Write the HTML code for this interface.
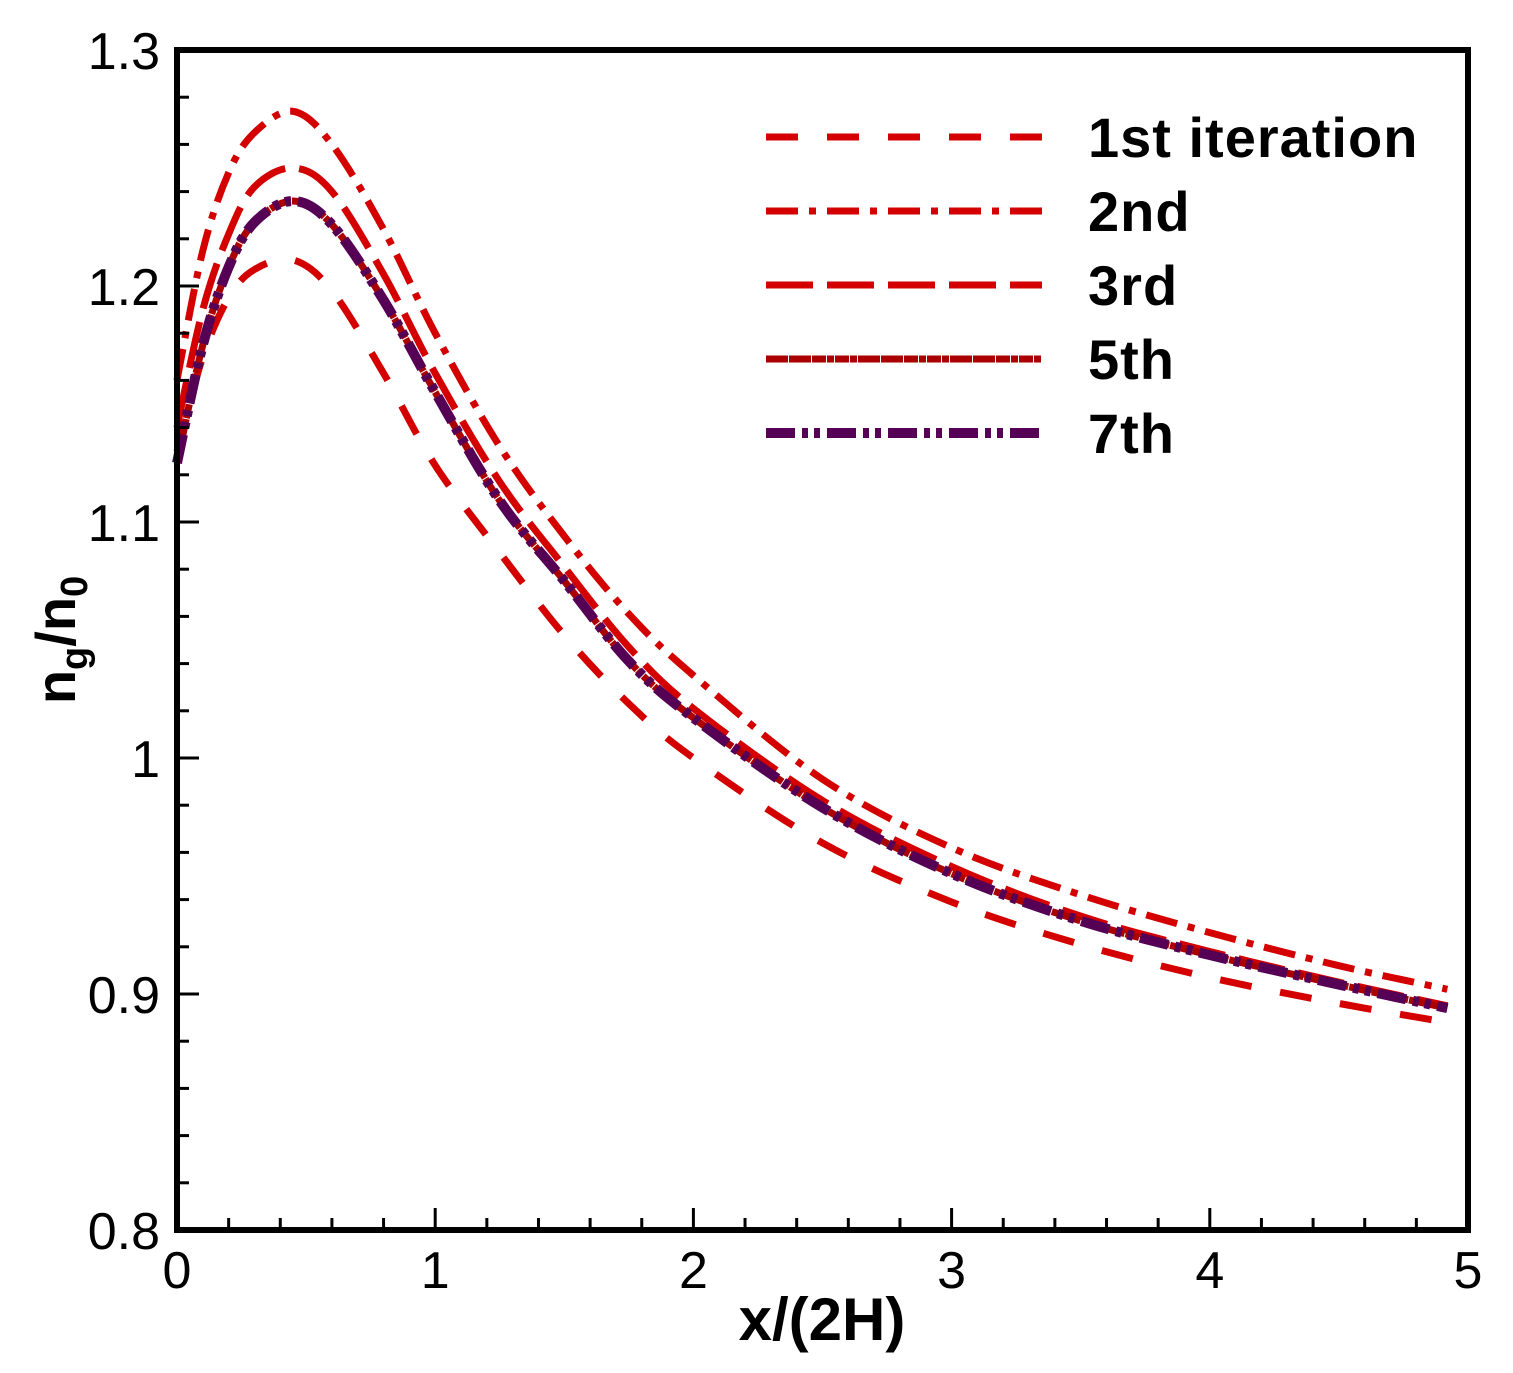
<!DOCTYPE html>
<html><head><meta charset="utf-8"><style>
html,body{margin:0;padding:0;background:#fff;}
svg{display:block;font-family:"Liberation Sans",Arial,sans-serif;}
</style></head><body>
<svg id="chart" width="1513" height="1373" viewBox="0 0 1513 1373">
<g id="marks"></g>
<g id="axes"></g>
<g id="legend"></g>
<text x="822" y="1340" font-size="60" font-weight="bold" text-anchor="middle">x/(2H)</text>
<text transform="translate(75,640) rotate(-90)" font-size="56" font-weight="bold" text-anchor="middle">n<tspan font-size="38" dy="12">g</tspan><tspan dy="-12">/n</tspan><tspan font-size="38" dy="12">0</tspan></text>
</svg>
<script>
const xs = [0,0.1,0.2,0.3,0.45,0.6,0.8,1.0,1.25,1.5,1.75,2,2.5,3,3.5,4,4.5,4.92];
const s1 = [1.13,1.17,1.195,1.207,1.211,1.198,1.163,1.124,1.087,1.052,1.023,1.0,0.964,0.939,0.921,0.907,0.896,0.888];
const s2 = [1.16,1.215,1.248,1.265,1.274,1.26,1.224,1.18,1.132,1.094,1.061,1.035,0.991,0.962,0.942,0.926,0.912,0.902];
const s3 = [1.14,1.19,1.222,1.242,1.25,1.24,1.205,1.163,1.117,1.081,1.047,1.021,0.982,0.954,0.933,0.918,0.905,0.895];
const s5 = [1.125,1.175,1.208,1.227,1.236,1.226,1.194,1.155,1.109,1.075,1.041,1.017,0.979,0.951,0.931,0.9165,0.904,0.894];
const s7 = [1.125,1.175,1.208,1.227,1.236,1.226,1.194,1.155,1.109,1.075,1.041,1.017,0.979,0.951,0.931,0.9165,0.904,0.894];
const seriesNames = ["1st iteration","2nd","3rd","5th","7th"];
const xTicks = ["0","1","2","3","4","5"];
const yTicks = ["0.8","0.9","1","1.1","1.2","1.3"];

const X0=177,X1=1468,Y0=1230,Y1=50;
const sx=v=>X0+(v-0)/(5-0)*(X1-X0);
const sy=v=>Y0-(v-0.8)/(1.3-0.8)*(Y0-Y1);
const NS="http://www.w3.org/2000/svg";
function mk(tag,parent){const e=document.createElementNS(NS,tag);parent.appendChild(e);return e;}
function pathD(xv,yv){
  const p=xv.map((x,i)=>[sx(x),sy(yv[i])]);
  let d="M"+p[0][0]+","+p[0][1];
  for(let i=0;i<p.length-1;i++){
    const a=p[Math.max(i-1,0)],b=p[i],c=p[i+1],e=p[Math.min(i+2,p.length-1)];
    const c1=[b[0]+(c[0]-a[0])/6,b[1]+(c[1]-a[1])/6];
    const c2=[c[0]-(e[0]-b[0])/6,c[1]-(e[1]-b[1])/6];
    d+=` C${c1[0]},${c1[1]} ${c2[0]},${c2[1]} ${c[0]},${c[1]}`;
  }
  return d;
}
const styles=[
 {c:"#d40000",w:7,da:"32 29"},
 {c:"#d40000",w:7,da:"32 11 7 11"},
 {c:"#d40000",w:7,da:"47 14"},
 {c:"#aa0000",w:7,da:"22 1 22 1 14 1 7 1 14 1 7 1"},
 {c:"#550055",w:10,da:"29 7 6 6 6 7"}
];
const data=[s1,s2,s3,s5,s7];
const marks=document.getElementById("marks");
data.forEach((s,i)=>{
  const p=mk("path",marks);
  
  
  p.setAttribute("d",pathD(xs,s));
  p.setAttribute("fill","none");p.setAttribute("stroke",styles[i].c);
  p.setAttribute("stroke-width",styles[i].w);p.setAttribute("stroke-dasharray",styles[i].da);
});
const axes=document.getElementById("axes");
function line(x1,y1,x2,y2,w){const l=mk("line",axes);l.setAttribute("x1",x1);l.setAttribute("y1",y1);l.setAttribute("x2",x2);l.setAttribute("y2",y2);l.setAttribute("stroke","#000");l.setAttribute("stroke-width",w);return l;}
for(let k=0;k<=25;k++){const v=k*0.2;const x=sx(v);const major=k%5===0;
  const t=line(x,Y0,x,Y0-(major?22:12),3);
  
  }
xTicks.forEach((lab,i)=>{const t=mk("text",axes);
  
  
  t.setAttribute("x",sx(+lab));t.setAttribute("y",1288);t.setAttribute("font-size","52");t.setAttribute("text-anchor","middle");t.textContent=lab;});
for(let k=0;k<=25;k++){const v=0.8+k*0.02;const y=sy(v);const major=k%5===0;
  const t=line(X0,y,X0+(major?22:12),y,3);
  
  }
yTicks.forEach(lab=>{const t=mk("text",axes);
  
  
  t.setAttribute("x",160);t.setAttribute("y",sy(+lab)+19);t.setAttribute("font-size","52");t.setAttribute("text-anchor","end");t.textContent=lab;});
const fr=mk("rect",axes);


fr.setAttribute("x",X0);fr.setAttribute("y",Y1);fr.setAttribute("width",X1-X0);fr.setAttribute("height",Y0-Y1);
fr.setAttribute("fill","none");fr.setAttribute("stroke","#000");fr.setAttribute("stroke-width",6);
const leg=document.getElementById("legend");
const legY=[137,211,285,359,433];
seriesNames.forEach((n,i)=>{
  const g=mk("g",leg);
  
  
  const l=mk("line",g);l.setAttribute("x1",766);l.setAttribute("x2",1042);l.setAttribute("y1",legY[i]);l.setAttribute("y2",legY[i]);
  l.setAttribute("stroke",styles[i].c);l.setAttribute("stroke-width",styles[i].w);l.setAttribute("stroke-dasharray",styles[i].da);
  const t=mk("text",g);t.setAttribute("x",1088);t.setAttribute("y",legY[i]+20);t.setAttribute("font-size","56");t.setAttribute("font-weight","bold");t.setAttribute("letter-spacing","1");t.textContent=n;
});
</script>
</body></html>
